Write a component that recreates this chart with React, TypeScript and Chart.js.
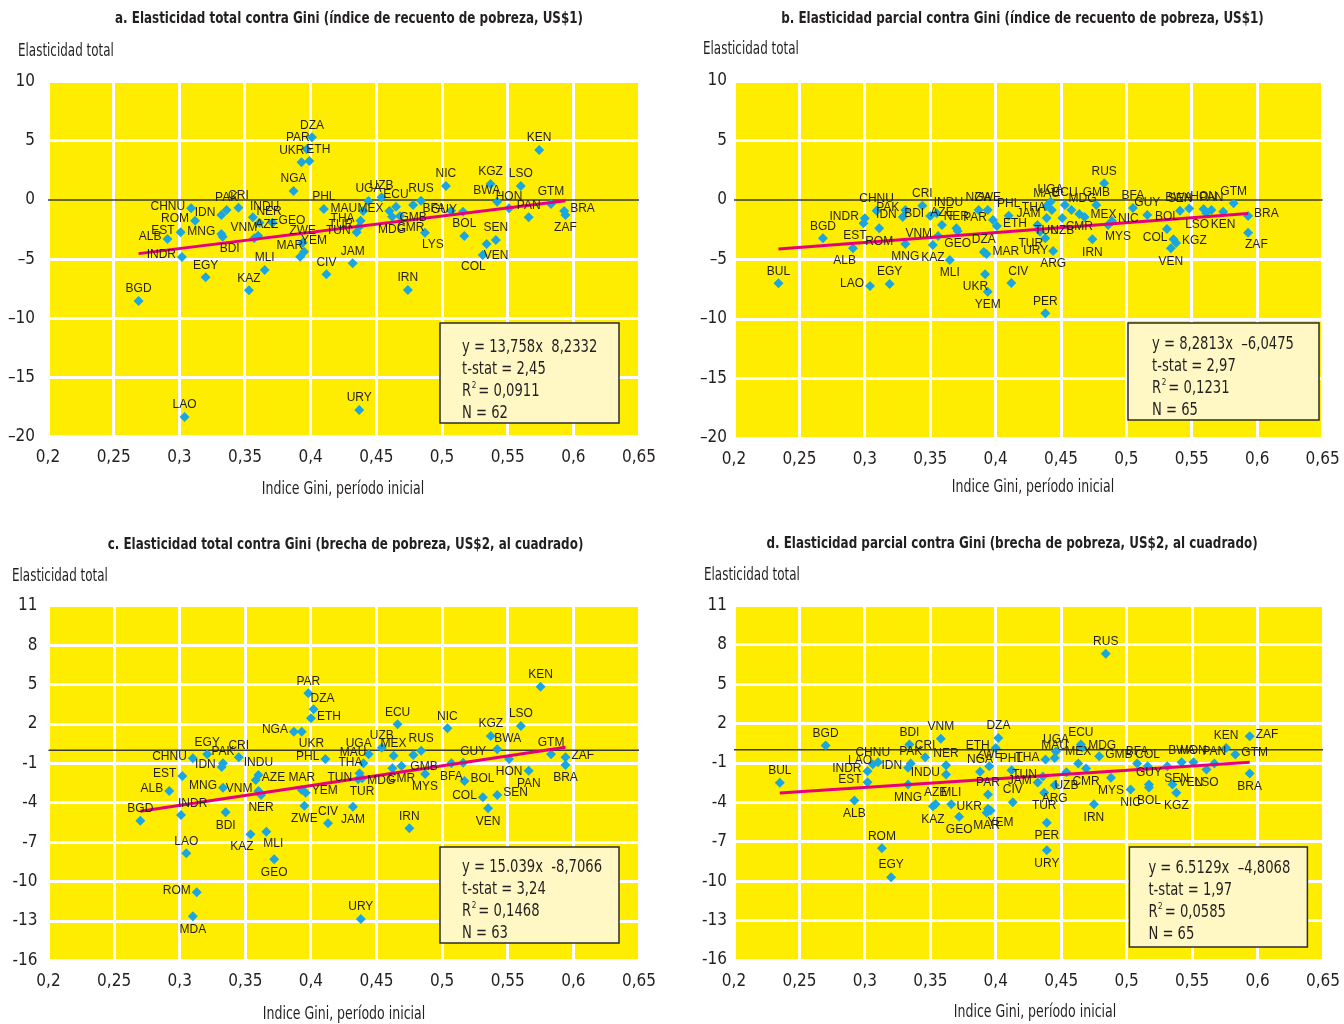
import React, { useEffect, useRef } from 'react';
import { Chart, registerables } from 'chart.js';

Chart.register(...registerables);

// ---------- shared ticks ----------
const xTicks = [0.2, 0.25, 0.3, 0.35, 0.4, 0.45, 0.5, 0.55, 0.6, 0.65];
const yTicksAB = [10, 5, 0, -5, -10, -15, -20];
const yTicksCD = [11, 8, 5, 2, -1, -4, -7, -10, -13, -16];

// ---------- panel a ----------
const namesA = ['DZA','PAR','UKR','ETH','NGA','PHL','CHNU','ROM','EST','ALB','INDR','BGD','EGY','IDN','PAK','CRI','INDU','NER','GEO','MNG','BDI','VNM','AZE','MLI','KAZ','MAR','ZWE','YEM','CIV','UGA','UZB','MAU','THA','TUR','TUN','ECU','MEX','MDG','CMR','GMB','RUS','LYS','BFA','GUY','NIC','BOL','KGZ','BWA','HON','LSO','KEN','PAN','GTM','BRA','ZAF','SEN','VEN','COL','IRN','JAM','LAO','URY'];
const giniA = [0.401,0.397,0.393,0.399,0.387,0.410,0.309,0.312,0.301,0.291,0.302,0.269,0.320,0.332,0.336,0.345,0.356,0.361,0.371,0.332,0.333,0.357,0.360,0.365,0.353,0.392,0.394,0.395,0.412,0.444,0.454,0.440,0.438,0.437,0.435,0.465,0.460,0.462,0.468,0.478,0.484,0.487,0.507,0.516,0.503,0.517,0.537,0.542,0.551,0.560,0.574,0.566,0.583,0.593,0.594,0.541,0.534,0.531,0.474,0.432,0.304,0.437];
const elastA = [5.3,4.3,3.2,3.3,0.76,-0.76,-0.7,-1.75,-2.73,-3.3,-4.82,-8.54,-6.53,-1.27,-0.85,-0.65,-1.46,-1.92,-1.92,-2.87,-3.1,-3.24,-3.02,-5.92,-7.63,-4.79,-3.61,-4.37,-6.28,-0.08,0.23,-0.93,-1.75,-2.26,-2.73,-0.57,-0.93,-1.41,-1.35,-0.42,-0.06,-2.76,-0.9,-0.99,1.18,-3.04,1.35,-0.14,-0.7,1.18,4.23,-1.46,-0.34,-0.93,-1.27,-3.38,-3.72,-4.65,-7.61,-5.35,-18.34,-17.75];
const labelPosA: Record<string, string> = { PAR:'al', UKR:'al', ETH:'ar', CHNU:'l', ROM:'l', EST:'l', ALB:'l', INDR:'l', IDN:'l', INDU:'ar', NER:'ar', GEO:'r', MNG:'l', BDI:'br', VNM:'al', AZE:'ar', MAR:'al', YEM:'ar', MAU:'l', THA:'l', TUR:'l', TUN:'l', MEX:'l', MDG:'b', CMR:'br', GMB:'b', LYS:'br', BFA:'l', GUY:'l', BWA:'al', BRA:'r', ZAF:'b', VEN:'br', COL:'bl' };
const regA = { slope: 13.758, intercept: -8.2332 };
const statsA = ['y = 13,758x  8,2332', 't-stat = 2,45', ' = 0,0911', 'N = 62'];

// ---------- panel b ----------
const namesB = ['BUL','LAO','EGY','BGD','ALB','INDR','EST','ROM','CHNU','PAK','IDN','CRI','BDI','INDU','AZE','NER','GEO','VNM','MNG','KAZ','MLI','NGA','ZWE','PAR','ETH','PHL','DZA','MAR','UKR','YEM','CIV','JAM','TUR','URY','ARG','MAU','UGA','THA','TUN','ECU','MDG','UZB','CMR','MEX','GMB','RUS','IRN','NIC','MYS','PER','BFA','GUY','SEN','BWA','HON','LSO','PAN','KEN','GTM','BRA','ZAF','BOL','COL','VEN','KGZ'];
const giniB = [0.234,0.304,0.319,0.268,0.291,0.300,0.299,0.311,0.309,0.331,0.329,0.344,0.350,0.355,0.359,0.370,0.371,0.356,0.331,0.352,0.365,0.387,0.394,0.398,0.401,0.410,0.391,0.393,0.392,0.394,0.412,0.432,0.434,0.438,0.444,0.439,0.442,0.443,0.439,0.453,0.458,0.451,0.464,0.468,0.477,0.483,0.474,0.489,0.486,0.438,0.505,0.516,0.541,0.548,0.559,0.561,0.565,0.574,0.582,0.593,0.593,0.531,0.536,0.534,0.538];
const elastB = [-7.0,-7.23,-7.06,-3.22,-4.06,-1.54,-1.96,-2.38,-0.9,-0.84,-1.43,-0.48,-1.34,-1.12,-2.1,-2.38,-2.61,-3.03,-3.7,-3.78,-5.04,-0.84,-0.84,-1.68,-2.18,-1.32,-4.37,-4.54,-6.24,-7.71,-6.97,-2.1,-2.66,-3.22,-4.29,-0.5,-0.14,-0.84,-1.51,-0.42,-0.84,-1.51,-1.18,-1.43,-0.42,1.4,-3.3,-1.76,-2.1,-9.52,-0.67,-1.26,-0.9,-0.71,-0.76,-1.09,-0.84,-0.98,-0.28,-1.34,-2.75,-2.44,-3.3,-4.06,-3.61];
const labelPosB: Record<string, string> = { LAO:'l', ALB:'bl', INDR:'l', EST:'bl', ROM:'b', PAK:'l', IDN:'l', BDI:'l', INDU:'ar', GEO:'b', VNM:'l', MNG:'b', KAZ:'b', MLI:'b', PAR:'l', ETH:'r', MAR:'r', UKR:'bl', YEM:'b', CIV:'ar', JAM:'al', TUR:'bl', URY:'bl', ARG:'b', THA:'l', TUN:'b', MDG:'ar', UZB:'b', CMR:'b', MEX:'r', IRN:'b', NIC:'r', MYS:'br', LSO:'bl', KEN:'b', BRA:'r', ZAF:'br', COL:'l', VEN:'b', KGZ:'r', BWA:'al' };
const regB = { slope: 8.2813, intercept: -6.0475 };
const statsB = ['y = 8,2813x  \u20136,0475', 't-stat = 2,97', ' = 0,1231', 'N = 65'];

// ---------- panel c ----------
const namesC = ['PAR','DZA','ETH','NGA','UKR','PHL','EGY','PAK','CRI','CHNU','IDN','INDU','AZE','VNM','NER','EST','MNG','ALB','BGD','INDR','BDI','MAR','YEM','ZWE','CIV','MLI','KAZ','GEO','LAO','ROM','MDA','KEN','ECU','NIC','LSO','KGZ','UZB','UGA','MEX','RUS','GMB','BFA','GUY','MYS','BWA','GTM','ZAF','BRA','HON','PAN','BOL','COL','SEN','VEN','IRN','JAM','MAU','THA','TUN','TUR','MDG','CMR','URY'];
const giniC = [0.398,0.402,0.400,0.387,0.393,0.411,0.321,0.333,0.345,0.310,0.332,0.360,0.358,0.360,0.362,0.302,0.333,0.292,0.270,0.301,0.335,0.393,0.396,0.395,0.413,0.366,0.354,0.372,0.305,0.313,0.310,0.575,0.466,0.504,0.560,0.537,0.454,0.444,0.463,0.484,0.478,0.507,0.516,0.487,0.542,0.583,0.594,0.594,0.551,0.566,0.517,0.531,0.542,0.535,0.475,0.432,0.440,0.437,0.436,0.439,0.462,0.469,0.438];
const elastC = [4.34,3.12,2.44,1.42,1.42,-0.66,-0.3,-0.99,-0.53,-0.61,-1.27,-1.88,-2.26,-3.09,-3.4,-1.96,-2.85,-3.1,-5.36,-4.93,-4.72,-3.02,-3.23,-4.22,-5.56,-6.2,-6.4,-8.3,-7.84,-10.81,-12.64,4.84,1.98,1.68,1.85,1.09,0.2,-0.3,-0.41,-0.03,-0.36,-0.99,-0.94,-1.81,0.08,-0.3,-0.53,-1.12,-0.66,-1.55,-2.34,-3.58,-3.4,-4.42,-5.94,-4.3,-0.99,-1.75,-2.21,-2.13,-1.37,-1.2,-12.85];
const labelPosC: Record<string, string> = { DZA:'ar', ETH:'r', NGA:'l', UKR:'br', PHL:'l', CHNU:'l', IDN:'l', AZE:'r', VNM:'l', NER:'b', EST:'l', MNG:'l', ALB:'l', INDR:'ar', BDI:'b', YEM:'r', ZWE:'b', MLI:'br', KAZ:'bl', GEO:'b', ROM:'l', MDA:'b', UGA:'al', GMB:'br', BFA:'b', GUY:'ar', MYS:'b', BWA:'ar', ZAF:'r', BRA:'b', HON:'b', PAN:'b', BOL:'r', COL:'l', SEN:'r', VEN:'b', JAM:'b', MAU:'al', THA:'al', TUN:'l', TUR:'b', MDG:'bl', CMR:'b' };
const regC = { slope: 15.039, intercept: -8.7066 };
const statsC = ['y = 15.039x  -8,7066', 't-stat = 3,24', ' = 0,1468', 'N = 63'];

// ---------- panel d ----------
const namesD = ['BGD','BUL','LAO','INDR','CHNU','EST','ALB','ROM','BDI','VNM','CRI','PAK','IDN','MNG','INDU','NER','AZE','KAZ','MLI','GEO','DZA','ETH','ZWE','NGA','PAR','UKR','MAR','YEM','PHL','CIV','JAM','THA','MAU','UGA','ECU','MDG','MEX','CMR','GMB','TUN','UZB','ARG','MYS','NIC','IRN','BFA','COL','GUY','BOL','SEN','VEN','KGZ','BWA','HON','KEN','PAN','LSO','GTM','ZAF','BRA','RUS','TUR','PER','URY','EGY'];
const giniD = [0.270,0.235,0.310,0.302,0.306,0.302,0.292,0.313,0.334,0.358,0.346,0.335,0.333,0.333,0.362,0.362,0.354,0.352,0.366,0.372,0.402,0.400,0.395,0.388,0.394,0.394,0.393,0.396,0.412,0.413,0.432,0.438,0.445,0.446,0.465,0.466,0.463,0.469,0.479,0.436,0.454,0.445,0.488,0.503,0.475,0.508,0.516,0.517,0.517,0.531,0.535,0.538,0.542,0.551,0.576,0.567,0.561,0.583,0.594,0.594,0.484,0.437,0.439,0.439,0.320];
const elastD = [0.33,-2.51,-0.94,-1.62,-1.1,-2.46,-3.85,-7.49,0.4,0.84,-0.56,-1.04,-1.37,-2.63,-1.88,-1.17,-4.15,-4.3,-4.15,-5.09,0.91,0.15,-1.25,-1.67,-3.39,-4.48,-4.78,-4.61,-1.55,-3.98,-2.48,-0.74,-0.61,-0.13,0.4,0.17,-1.04,-1.42,-0.49,-2.02,-1.7,-2.69,-2.13,-3.02,-4.15,-1.04,-1.25,-2.63,-2.86,-1.25,-2.63,-3.27,-0.94,-0.94,0.15,-1.04,-1.5,-0.36,1.03,-1.8,7.31,-3.27,-5.54,-7.65,-9.69];
const labelPosD: Record<string, string> = { LAO:'l', INDR:'l', EST:'l', ALB:'b', IDN:'l', MNG:'b', INDU:'l', KAZ:'b', GEO:'b', ETH:'l', UKR:'l', MAR:'b', YEM:'br', JAM:'l', THA:'l', MDG:'r', CMR:'b', GMB:'r', TUN:'l', UZB:'b', ARG:'b', MYS:'b', NIC:'b', IRN:'b', BOL:'b', SEN:'br', VEN:'r', KGZ:'b', LSO:'b', GTM:'r', ZAF:'r', BRA:'b', TUR:'b', PER:'b', URY:'b' };
const regD = { slope: 6.5129, intercept: -4.8068 };
const statsD = ['y = 6.5129x  \u20134,8068', 't-stat = 1,97', ' = 0,0585', 'N = 65'];

// ---------- styles ----------
const NARROW = "'Liberation Sans Narrow', 'DejaVu Sans Condensed', 'Roboto Condensed', 'Liberation Sans', sans-serif";
const LABEL_FONT = "'Liberation Sans', Arial, sans-serif";
const TEXT = '#231f20';
const YELLOW = '#FFED00';
const BLUE = '#1AA7E1';
const MAGENTA = '#E5007D';
const W = 672;
const H = 512;

type Panel = {
  key: string;
  title: string;
  names: string[];
  xs: number[];
  ys: number[];
  pos: Record<string, string>;
  reg: { slope: number; intercept: number };
  stats: string[];
  yTicks: number[];
  minus: string;
  left: number;
  top: number;
  area: { l: number; t: number; r: number; b: number };
  yPad: number;
  titleX: number;
  titleY: number;
  yTitleX: number;
  yTitleY: number;
  xTitleX: number;
  xTitleY: number;
  box: { dr: number; db: number; w: number; h: number; tx: number; ty: number };
};

const panels: Panel[] = [
  {
    key: 'a', title: 'a. Elasticidad total contra Gini (\u00edndice de recuento de pobreza, US$1)',
    names: namesA, xs: giniA, ys: elastA, pos: labelPosA, reg: regA, stats: statsA,
    yTicks: yTicksAB, minus: '\u2013', left: 0, top: 0,
    area: { l: 48, t: 81.7, r: 639, b: 436.6 }, yPad: 13,
    titleX: 349, titleY: 19, yTitleX: 18, yTitleY: 52, xTitleX: 343, xTitleY: 490,
    box: { dr: 20, db: 13.6, w: 179, h: 100, tx: 22, ty: 25 },
  },
  {
    key: 'b', title: 'b. Elasticidad parcial contra Gini (\u00edndice de recuento de pobreza, US$1)',
    names: namesB, xs: giniB, ys: elastB, pos: labelPosB, reg: regB, stats: statsB,
    yTicks: yTicksAB, minus: '\u2013', left: 672, top: 0,
    area: { l: 62, t: 81, r: 650.6, b: 438 }, yPad: 7,
    titleX: 350.5, titleY: 19, yTitleX: 31, yTitleY: 50, xTitleX: 361, xTitleY: 488,
    box: { dr: 3.6, db: 18, w: 191, h: 97, tx: 24, ty: 22 },
  },
  {
    key: 'c', title: 'c. Elasticidad total contra Gini (brecha de pobreza, US$2, al cuadrado)',
    names: namesC, xs: giniC, ys: elastC, pos: labelPosC, reg: regC, stats: statsC,
    yTicks: yTicksCD, minus: '-', left: 0, top: 512,
    area: { l: 48.5, t: 93.9, r: 639, b: 448.4 }, yPad: 11,
    titleX: 345.5, titleY: 33, yTitleX: 12, yTitleY: 65, xTitleX: 344, xTitleY: 503,
    box: { dr: 20, db: 17.4, w: 179, h: 96, tx: 22, ty: 21 },
  },
  {
    key: 'd', title: 'd. Elasticidad parcial contra Gini (brecha de pobreza, US$2, al cuadrado)',
    names: namesD, xs: giniD, ys: elastD, pos: labelPosD, reg: regD, stats: statsD,
    yTicks: yTicksCD, minus: '-', left: 672, top: 512,
    area: { l: 62, t: 93.4, r: 651, b: 448 }, yPad: 7,
    titleX: 340, titleY: 32, yTitleX: 32, yTitleY: 64, xTitleX: 363, xTitleY: 501,
    box: { dr: 15.6, db: 13, w: 178, h: 100, tx: 19, ty: 22 },
  },
];

function fmtX(v: number) {
  return String(Math.round(v * 100) / 100).replace('.', ',');
}

// draw text horizontally compressed to mimic a condensed typeface
function drawText(ctx: CanvasRenderingContext2D, text: string, x: number, y: number, align: CanvasTextAlign, sx: number) {
  ctx.save();
  ctx.translate(x, y);
  ctx.scale(sx, 1);
  ctx.textAlign = align;
  ctx.fillText(text, 0, 0);
  ctx.restore();
}

function ChartPanel({ p }: { p: Panel }) {
  const ref = useRef<HTMLCanvasElement>(null);

  useEffect(() => {
    const canvas = ref.current;
    if (!canvas) return;
    const pts = p.xs.map((x, i) => ({ x, y: p.ys[i] }));
    const minX = Math.min(...p.xs);
    const maxX = Math.max(...p.xs);
    const regLine = [minX, maxX].map((x) => ({ x, y: p.reg.slope * x + p.reg.intercept }));

    const deco = {
      id: 'deco_' + p.key,
      beforeDraw(chart: any) {
        const { ctx, chartArea: a } = chart;
        ctx.save();
        ctx.fillStyle = '#ffffff';
        ctx.fillRect(0, 0, chart.width, chart.height);
        ctx.fillStyle = YELLOW;
        ctx.fillRect(a.left, a.top, a.right - a.left, a.bottom - a.top);
        ctx.restore();
      },
      beforeDatasetsDraw(chart: any) {
        const { ctx, chartArea: a } = chart;
        const y0 = chart.scales.y.getPixelForValue(0);
        ctx.save();
        ctx.strokeStyle = '#3a3a3a';
        ctx.lineWidth = 1.5;
        ctx.beginPath();
        ctx.moveTo(a.left, y0);
        ctx.lineTo(a.right, y0);
        ctx.stroke();
        ctx.restore();
      },
      afterDatasetsDraw(chart: any) {
        const { ctx } = chart;
        const meta = chart.getDatasetMeta(0);
        ctx.save();
        ctx.font = `12px ${LABEL_FONT}`;
        ctx.fillStyle = TEXT;
        ctx.textBaseline = 'middle';
        meta.data.forEach((el: any, i: number) => {
          const name = p.names[i];
          const code = p.pos[name] || 'a';
          const x = el.x;
          const y = el.y;
          let tx = x;
          let ty = y - 12;
          let align: CanvasTextAlign = 'center';
          switch (code) {
            case 'b': ty = y + 13; break;
            case 'l': align = 'right'; tx = x - 6; ty = y - 2; break;
            case 'r': align = 'left'; tx = x + 6; ty = y - 2; break;
            case 'al': align = 'right'; tx = x + 3; ty = y - 11; break;
            case 'ar': align = 'left'; tx = x - 3; ty = y - 11; break;
            case 'bl': align = 'right'; tx = x + 3; ty = y + 12; break;
            case 'br': align = 'left'; tx = x - 3; ty = y + 12; break;
            default: break;
          }
          ctx.textAlign = align;
          ctx.fillText(name, tx, ty);
        });
        ctx.restore();
      },
      afterDraw(chart: any) {
        const { ctx, chartArea: a } = chart;
        ctx.save();
        ctx.fillStyle = TEXT;
        ctx.textBaseline = 'middle';
        // title
        ctx.font = `bold 16px ${NARROW}`;
        drawText(ctx, p.title, p.titleX, p.titleY, 'center', 0.83);
        // y title
        ctx.font = `17px ${NARROW}`;
        drawText(ctx, 'Elasticidad total', p.yTitleX, p.yTitleY, 'left', 0.78);
        // x title
        drawText(ctx, 'Indice Gini, per\u00edodo inicial', p.xTitleX, p.xTitleY, 'center', 0.82);
        // stats box
        const bx = a.right - p.box.dr - p.box.w;
        const by = a.bottom - p.box.db - p.box.h;
        ctx.fillStyle = '#FFF8C4';
        ctx.fillRect(bx, by, p.box.w, p.box.h);
        ctx.strokeStyle = '#2b2b2b';
        ctx.lineWidth = 1.5;
        ctx.strokeRect(bx, by, p.box.w, p.box.h);
        ctx.fillStyle = TEXT;
        ctx.font = `17px ${NARROW}`;
        const sx = 0.86;
        const lx = bx + p.box.tx;
        const step = 21.8;
        p.stats.forEach((s, i) => {
          const ly = by + p.box.ty + i * step;
          if (i === 2) {
            drawText(ctx, 'R', lx, ly, 'left', sx);
            const rw = ctx.measureText('R').width * sx;
            ctx.font = `8px ${NARROW}`;
            drawText(ctx, '2', lx + rw + 0.5, ly - 6, 'left', 1);
            ctx.font = `17px ${NARROW}`;
            drawText(ctx, s, lx + rw + 3, ly, 'left', sx);
          } else {
            drawText(ctx, s, lx, ly, 'left', sx);
          }
        });
        ctx.restore();
      },
    };

    const gridColor = (c: any) => (c.tick && c.tick.value === 0 ? 'rgba(0,0,0,0)' : '#ffffff');

    const chart = new Chart(canvas, {
      type: 'scatter',
      data: {
        datasets: [
          {
            type: 'scatter',
            data: pts,
            pointStyle: 'rectRot',
            pointRadius: 5,
            pointHoverRadius: 5,
            pointBackgroundColor: BLUE,
            pointBorderWidth: 0,
            pointBorderColor: BLUE,
            order: 2,
          } as any,
          {
            type: 'line',
            data: regLine,
            borderColor: MAGENTA,
            borderWidth: 3,
            pointRadius: 0,
            fill: false,
            order: 1,
          } as any,
        ],
      },
      options: {
        responsive: false,
        animation: false,
        events: [],
        layout: { padding: { top: p.area.t, right: W - p.area.r, left: 0, bottom: 0 } },
        plugins: {
          legend: { display: false },
          tooltip: { enabled: false },
          title: { display: false },
        },
        scales: {
          x: {
            type: 'linear',
            min: 0.2,
            max: 0.65,
            afterBuildTicks: (s: any) => {
              s.ticks = xTicks.map((v) => ({ value: v }));
            },
            afterFit: (s: any) => {
              s.height = H - p.area.b;
              s.paddingLeft = 0;
              s.paddingRight = 0;
            },
            grid: { color: '#ffffff', lineWidth: 3, drawTicks: false },
            border: { display: false },
            ticks: {
              padding: 11,
              color: TEXT,
              font: { family: NARROW, size: 17 },
              maxRotation: 0,
              autoSkip: false,
              callback: (v: any) => fmtX(Number(v)),
            },
          },
          y: {
            type: 'linear',
            min: p.yTicks[p.yTicks.length - 1],
            max: p.yTicks[0],
            afterBuildTicks: (s: any) => {
              s.ticks = p.yTicks.slice().reverse().map((v) => ({ value: v }));
            },
            afterFit: (s: any) => {
              s.width = p.area.l;
              s.paddingTop = 0;
              s.paddingBottom = 0;
            },
            grid: { color: gridColor, lineWidth: 3, drawTicks: false },
            border: { display: false },
            ticks: {
              padding: p.yPad,
              color: TEXT,
              font: { family: NARROW, size: 17 },
              autoSkip: false,
              callback: (v: any) => {
                const n = Number(v);
                return n < 0 ? p.minus + Math.abs(n) : String(n);
              },
            },
          },
        },
      },
      plugins: [deco],
    } as any);

    return () => chart.destroy();
  }, [p]);

  return (
    <canvas
      ref={ref}
      width={W}
      height={H}
      style={{ position: 'absolute', left: p.left, top: p.top, width: W, height: H }}
    />
  );
}

export default function App() {
  return (
    <div style={{ position: 'absolute', left: 0, top: 0, width: 1344, height: 1024, background: '#ffffff' }}>
      {panels.map((p) => (
        <ChartPanel key={p.key} p={p} />
      ))}
    </div>
  );
}
